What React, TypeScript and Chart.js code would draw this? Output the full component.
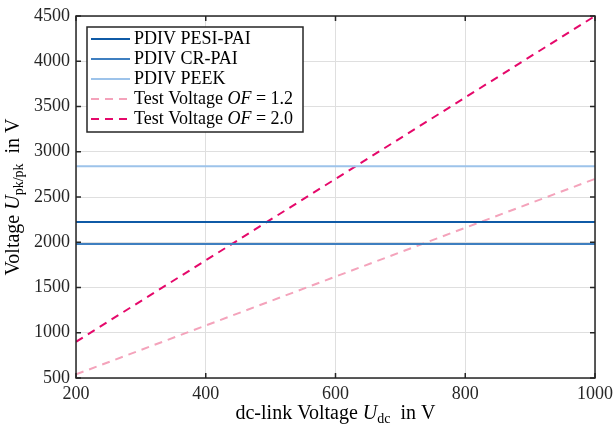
import React, { useEffect, useRef } from "react";
import { Chart, registerables } from "chart.js";

Chart.register(...registerables);

const xValues = [200, 1000];
const pdivPesiPai = [2225, 2225];
const pdivCrPai = [1980, 1980];
const pdivPeek = [2840, 2840];
const testOf12 = [540, 2700];
const testOf20 = [900, 4500];

const seriesLabels = [
  "PDIV PESI-PAI",
  "PDIV CR-PAI",
  "PDIV PEEK",
  "Test Voltage OF = 1.2",
  "Test Voltage OF = 2.0",
];
const seriesColors = ["#0f5aa6", "#3f7fc0", "#9dc3ea", "#f4a3bb", "#e5086a"];

const FONT = "'Liberation Serif', 'DejaVu Serif', serif";
const AX = "#262626";

type Part = { text: string; italic?: boolean; sub?: boolean };

function partFont(p: Part, size: number) {
  const s = p.sub ? Math.round(size * 0.7) : size;
  return `${p.italic ? "italic " : ""}${s}px ${FONT}`;
}

function drawRich(ctx: CanvasRenderingContext2D, parts: Part[], x: number, y: number, size: number, align: "left" | "center") {
  let total = 0;
  const widths = parts.map((p) => {
    ctx.font = partFont(p, size);
    const w = ctx.measureText(p.text).width;
    total += w;
    return w;
  });
  let cx = align === "center" ? x - total / 2 : x;
  ctx.textBaseline = "middle";
  ctx.textAlign = "left";
  parts.forEach((p, i) => {
    ctx.font = partFont(p, size);
    ctx.fillText(p.text, cx, p.sub ? y + size * 0.28 : y);
    cx += widths[i];
  });
}

function labelParts(label: string): Part[] {
  return label.split(/(OF)/).filter((t) => t.length).map((t) => ({ text: t, italic: t === "OF" }));
}

const decor = {
  id: "decor",
  afterDraw(chart: any) {
    const { ctx, chartArea: a, scales } = chart;
    const x = scales.x;
    const y = scales.y;
    ctx.save();
    // inward ticks
    ctx.strokeStyle = AX;
    ctx.lineWidth = 1.5;
    const tl = 5;
    x.ticks.forEach((t: any) => {
      const px = x.getPixelForValue(t.value);
      ctx.beginPath();
      ctx.moveTo(px, a.bottom);
      ctx.lineTo(px, a.bottom - tl);
      ctx.moveTo(px, a.top);
      ctx.lineTo(px, a.top + tl);
      ctx.stroke();
    });
    y.ticks.forEach((t: any) => {
      const py = y.getPixelForValue(t.value);
      ctx.beginPath();
      ctx.moveTo(a.left, py);
      ctx.lineTo(a.left + tl, py);
      ctx.moveTo(a.right, py);
      ctx.lineTo(a.right - tl, py);
      ctx.stroke();
    });
    // border
    ctx.strokeStyle = AX;
    ctx.lineWidth = 1.5;
    ctx.strokeRect(a.left, a.top, a.right - a.left, a.bottom - a.top);

    // legend
    const lx = a.left + 11;
    const ly = a.top + 11;
    const lw = 216;
    const lh = 105;
    ctx.fillStyle = "#ffffff";
    ctx.fillRect(lx, ly, lw, lh);
    ctx.strokeStyle = AX;
    ctx.lineWidth = 1.5;
    ctx.strokeRect(lx, ly, lw, lh);
    chart.data.datasets.forEach((ds: any, i: number) => {
      const ry = ly + 12 + i * 20;
      ctx.strokeStyle = ds.borderColor;
      ctx.lineWidth = 2;
      ctx.setLineDash(ds.borderDash || []);
      ctx.beginPath();
      ctx.moveTo(lx + 4, ry);
      ctx.lineTo(lx + 43, ry);
      ctx.stroke();
      ctx.setLineDash([]);
      ctx.fillStyle = "#000000";
      drawRich(ctx, labelParts(ds.label), lx + 47, ry, 18, "left");
    });

    // axis titles
    ctx.fillStyle = "#000000";
    drawRich(
      ctx,
      [{ text: "dc-link Voltage " }, { text: "U", italic: true }, { text: "dc", sub: true }, { text: "  in V" }],
      (a.left + a.right) / 2,
      414,
      20,
      "center"
    );
    ctx.translate(14, (a.top + a.bottom) / 2);
    ctx.rotate(-Math.PI / 2);
    drawRich(
      ctx,
      [{ text: "Voltage " }, { text: "U", italic: true }, { text: "pk/pk", sub: true }, { text: "  in V" }],
      0,
      0,
      20,
      "center"
    );
    ctx.restore();
  },
};

export default function App() {
  const ref = useRef<HTMLCanvasElement>(null);
  useEffect(() => {
    document.body.style.margin = "0";
    const series = [pdivPesiPai, pdivCrPai, pdivPeek, testOf12, testOf20];
    const chart = new Chart(ref.current!, {
      type: "line",
      data: {
        datasets: series.map((vals, i) => ({
          label: seriesLabels[i],
          data: xValues.map((xv, j) => ({ x: xv, y: vals[j] })),
          borderColor: seriesColors[i],
          backgroundColor: seriesColors[i],
          borderWidth: 2,
          borderDash: i >= 3 ? [8, 6] : [],
          pointRadius: 0,
          fill: false,
          tension: 0,
        })),
      },
      options: {
        responsive: false,
        animation: false,
        layout: { padding: { top: 16, right: 18, left: 0, bottom: 0 } },
        plugins: { legend: { display: false }, tooltip: { enabled: false } },
        scales: {
          x: {
            type: "linear",
            min: 200,
            max: 1000,
            afterFit: (s: any) => {
              s.height = 53;
              s.paddingLeft = 0;
              s.paddingRight = 0;
            },
            grid: { color: "#dfdfdf", lineWidth: 1, drawTicks: false },
            border: { display: false },
            ticks: {
              stepSize: 200,
              padding: 5,
              color: AX,
              font: { family: FONT, size: 18 },
              maxRotation: 0,
              callback: (v: any) => String(v),
            },
          },
          y: {
            type: "linear",
            min: 500,
            max: 4500,
            afterFit: (s: any) => {
              s.width = 76;
              s.paddingTop = 0;
              s.paddingBottom = 0;
            },
            grid: { color: "#dfdfdf", lineWidth: 1, drawTicks: false },
            border: { display: false },
            ticks: {
              stepSize: 500,
              padding: 6,
              color: AX,
              font: { family: FONT, size: 18 },
              callback: (v: any) => String(v),
            },
          },
        },
      },
      plugins: [decor],
    } as any);
    return () => chart.destroy();
  }, []);
  return (
    <div style={{ position: "fixed", left: 0, top: 0, width: 613, height: 431 }}>
      <canvas ref={ref} width={613} height={431} />
    </div>
  );
}
